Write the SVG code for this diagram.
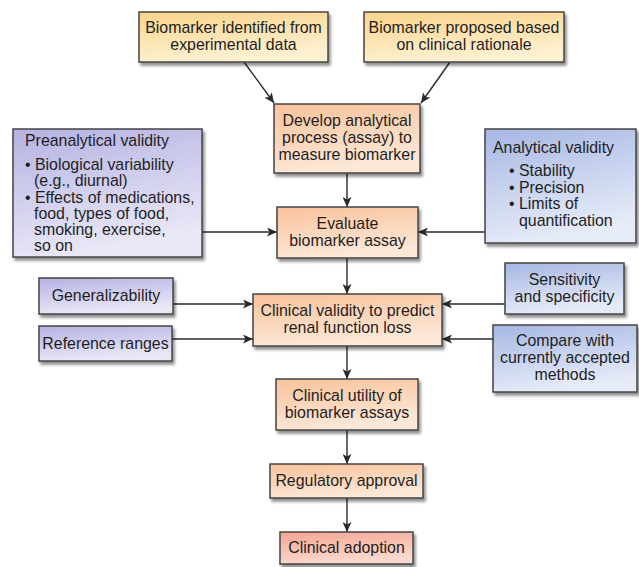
<svg xmlns="http://www.w3.org/2000/svg" width="639" height="567" viewBox="0 0 639 567">
<defs>
<linearGradient id="gY" x1="0" y1="0" x2="0.3" y2="1"><stop offset="0" stop-color="#fbd38a"/><stop offset="1" stop-color="#fdf1d2"/></linearGradient>
<linearGradient id="gO" x1="0" y1="0" x2="0.3" y2="1"><stop offset="0" stop-color="#f8c29a"/><stop offset="1" stop-color="#fde8d8"/></linearGradient>
<linearGradient id="gP" x1="0" y1="0" x2="0.3" y2="1"><stop offset="0" stop-color="#b5b2e2"/><stop offset="1" stop-color="#e9e8f7"/></linearGradient>
<linearGradient id="gB" x1="0" y1="0" x2="0.3" y2="1"><stop offset="0" stop-color="#a6b7e3"/><stop offset="1" stop-color="#e6ebf8"/></linearGradient>
<linearGradient id="gR" x1="0" y1="0" x2="0.3" y2="1"><stop offset="0" stop-color="#f4a592"/><stop offset="1" stop-color="#fbd9cf"/></linearGradient>
<filter id="sh" x="-10%" y="-10%" width="130%" height="140%"><feGaussianBlur in="SourceAlpha" stdDeviation="1.5"/><feOffset dx="2" dy="3" result="b"/><feComponentTransfer><feFuncA type="linear" slope="0.45"/></feComponentTransfer><feMerge><feMergeNode/><feMergeNode in="SourceGraphic"/></feMerge></filter>
<marker id="ah" markerUnits="userSpaceOnUse" markerWidth="11" markerHeight="9" refX="10" refY="4.5" orient="auto"><path d="M0,0 L10,4.5 L0,9 L2.5,4.5 z" fill="#2a2a2a"/></marker>
</defs>
<style>
.box{stroke:#444;stroke-width:1.5;filter:url(#sh)}
.y{fill:url(#gY)}.o{fill:url(#gO)}.p{fill:url(#gP)}.b{fill:url(#gB)}.r{fill:url(#gR)}
text{font-family:"Liberation Sans",Arial,sans-serif;font-size:15.9px;fill:#1e1e1e}
.c{text-anchor:middle}
.ln{stroke:#2a2a2a;stroke-width:1.4;fill:none;marker-end:url(#ah)}
</style>
<g id="connectors">
<line class="ln" x1="244" y1="62" x2="274" y2="103"/>
<line class="ln" x1="450" y1="62" x2="421" y2="103"/>
<line class="ln" x1="347" y1="173" x2="347" y2="207"/>
<line class="ln" x1="202" y1="232" x2="277" y2="232"/>
<line class="ln" x1="485" y1="232" x2="418" y2="232"/>
<line class="ln" x1="347" y1="258" x2="347" y2="294"/>
<line class="ln" x1="173" y1="304" x2="253" y2="304"/>
<line class="ln" x1="172" y1="339" x2="253" y2="339"/>
<line class="ln" x1="505" y1="304" x2="442" y2="304"/>
<line class="ln" x1="493" y1="339" x2="442" y2="339"/>
<line class="ln" x1="347" y1="346" x2="347" y2="379"/>
<line class="ln" x1="347" y1="430" x2="347" y2="464"/>
<line class="ln" x1="347" y1="498" x2="347" y2="532"/>
</g>
<g id="n1"><rect class="box y" x="139" y="12" width="189" height="50"/>
<text class="c" x="233.5" y="33">Biomarker identified from</text><text class="c" x="233.5" y="50">experimental data</text></g>
<g id="n2"><rect class="box y" x="364" y="12" width="200" height="50"/>
<text class="c" x="464" y="33">Biomarker proposed based</text><text class="c" x="464" y="50">on clinical rationale</text></g>
<g id="n3"><rect class="box o" x="274" y="104" width="146" height="69"/>
<text class="c" x="347" y="126">Develop analytical</text><text class="c" x="347" y="143">process (assay) to</text><text class="c" x="347" y="160">measure biomarker</text></g>
<g id="n4"><rect class="box p" x="13" y="129" width="189" height="128"/>
<text x="25" y="146">Preanalytical validity</text>
<text x="25" y="170">• Biological variability</text>
<text x="34" y="186">(e.g., diurnal)</text>
<text x="25" y="203">• Effects of medications,</text>
<text x="34" y="219">food, types of food,</text>
<text x="34" y="235">smoking, exercise,</text>
<text x="34" y="251">so on</text></g>
<g id="n5"><rect class="box b" x="485" y="129" width="151" height="114"/>
<text x="493" y="153">Analytical validity</text>
<text x="509" y="176">• Stability</text>
<text x="509" y="193">• Precision</text>
<text x="509" y="209">• Limits of</text>
<text x="519" y="226">quantification</text></g>
<g id="n6"><rect class="box o" x="277" y="207" width="141" height="51"/>
<text class="c" x="347.5" y="229">Evaluate</text><text class="c" x="347.5" y="246">biomarker assay</text></g>
<g id="n7"><rect class="box p" x="39" y="278" width="134" height="36"/>
<text class="c" x="106" y="301">Generalizability</text></g>
<g id="n8"><rect class="box p" x="39" y="326" width="133" height="35"/>
<text class="c" x="105.5" y="349">Reference ranges</text></g>
<g id="n9"><rect class="box o" x="253" y="294" width="189" height="52"/>
<text class="c" x="347.5" y="316">Clinical validity to predict</text><text class="c" x="347.5" y="333">renal function loss</text></g>
<g id="n10"><rect class="box b" x="505" y="263" width="119" height="51"/>
<text class="c" x="564.5" y="285">Sensitivity</text><text class="c" x="564.5" y="302">and specificity</text></g>
<g id="n11"><rect class="box b" x="493" y="325" width="144" height="67"/>
<text class="c" x="565" y="346">Compare with</text><text class="c" x="565" y="363">currently accepted</text><text class="c" x="565" y="380">methods</text></g>
<g id="n12"><rect class="box o" x="276" y="379" width="142" height="51"/>
<text class="c" x="347" y="401">Clinical utility of</text><text class="c" x="347" y="418">biomarker assays</text></g>
<g id="n13"><rect class="box o" x="270" y="464" width="153" height="34"/>
<text class="c" x="346.5" y="486">Regulatory approval</text></g>
<g id="n14"><rect class="box r" x="280" y="532" width="133" height="32"/>
<text class="c" x="346.5" y="553">Clinical adoption</text></g>
</svg>
